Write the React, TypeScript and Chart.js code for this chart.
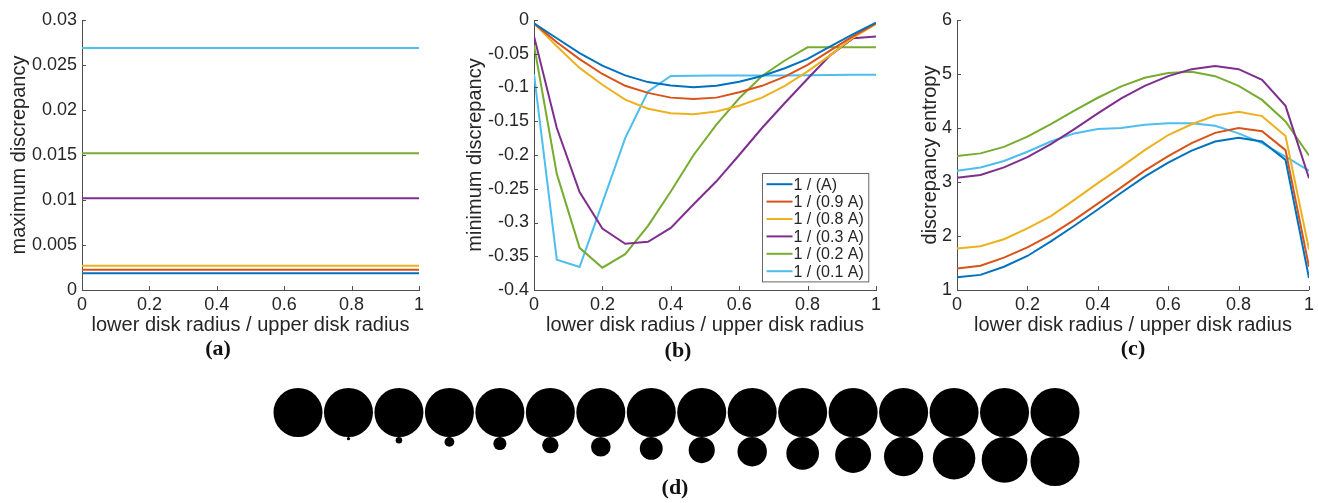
import React, { useEffect, useRef } from "react";
import { Chart, registerables } from "chart.js";

Chart.register(...registerables);

// ---------- data ----------
const xValues = [0, 1 / 15, 2 / 15, 3 / 15, 4 / 15, 5 / 15, 6 / 15, 7 / 15, 8 / 15, 9 / 15, 10 / 15, 11 / 15, 12 / 15, 13 / 15, 14 / 15, 1];

const seriesLabels = ["1 / (A)", "1 / (0.9 A)", "1 / (0.8 A)", "1 / (0.3 A)", "1 / (0.2 A)", "1 / (0.1 A)"];

// (a) maximum discrepancy (constant over the ratio)
const maxDiscrepancy = [0.00185, 0.00226, 0.0027, 0.0102, 0.0152, 0.0269];

// (b) minimum discrepancy
const minA = [-0.005, -0.027, -0.049, -0.0675, -0.082, -0.092, -0.097, -0.0995, -0.0975, -0.0916, -0.083, -0.0714, -0.0576, -0.039, -0.021, -0.004];
const min09A = [-0.005, -0.033, -0.058, -0.08, -0.0975, -0.108, -0.115, -0.117, -0.115, -0.107, -0.0975, -0.084, -0.0665, -0.045, -0.024, -0.005];
const min08A = [-0.005, -0.039, -0.071, -0.096, -0.118, -0.1315, -0.138, -0.1395, -0.1355, -0.127, -0.115, -0.0975, -0.076, -0.052, -0.026, -0.006];
const min03A = [-0.024, -0.16, -0.255, -0.309, -0.3315, -0.3285, -0.308, -0.273, -0.239, -0.2, -0.16, -0.123, -0.087, -0.052, -0.027, -0.0246];
const min02A = [-0.037, -0.228, -0.3375, -0.367, -0.347, -0.305, -0.254, -0.2, -0.155, -0.116, -0.083, -0.06, -0.0404, -0.0404, -0.0404, -0.0404];
const min01A = [-0.08, -0.355, -0.366, -0.271, -0.175, -0.106, -0.083, -0.0825, -0.0824, -0.0823, -0.0822, -0.0821, -0.082, -0.0815, -0.081, -0.081];

// (c) discrepancy entropy
const entA = [1.235, 1.28, 1.43, 1.63, 1.9, 2.19, 2.49, 2.8, 3.1, 3.36, 3.58, 3.75, 3.82, 3.75, 3.41, 1.22];
const ent09A = [1.4, 1.45, 1.6, 1.79, 2.02, 2.3, 2.6, 2.9, 3.21, 3.48, 3.72, 3.91, 4.0, 3.94, 3.59, 1.43];
const ent08A = [1.77, 1.81, 1.94, 2.14, 2.37, 2.67, 2.98, 3.28, 3.59, 3.87, 4.07, 4.23, 4.3, 4.22, 3.85, 1.75];
const ent03A = [3.08, 3.13, 3.27, 3.46, 3.7, 3.98, 4.27, 4.55, 4.78, 4.96, 5.09, 5.15, 5.09, 4.89, 4.41, 3.07];
const ent02A = [3.48, 3.53, 3.65, 3.84, 4.07, 4.32, 4.56, 4.77, 4.93, 5.02, 5.04, 4.96, 4.78, 4.52, 4.12, 3.49];
const ent01A = [3.21, 3.27, 3.39, 3.56, 3.75, 3.9, 3.98, 4.0, 4.06, 4.09, 4.09, 4.04, 3.9, 3.72, 3.47, 3.21];

// ticks
const xTicks = [0, 0.2, 0.4, 0.6, 0.8, 1];
const xTickLabels = ["0", "0.2", "0.4", "0.6", "0.8", "1"];
const yTicksA = [0, 0.005, 0.01, 0.015, 0.02, 0.025, 0.03];
const yTickLabelsA = ["0", "0.005", "0.01", "0.015", "0.02", "0.025", "0.03"];
const yTicksB = [-0.4, -0.35, -0.3, -0.25, -0.2, -0.15, -0.1, -0.05, 0];
const yTickLabelsB = ["-0.4", "-0.35", "-0.3", "-0.25", "-0.2", "-0.15", "-0.1", "-0.05", "0"];
const yTicksC = [1, 2, 3, 4, 5, 6];
const yTickLabelsC = ["1", "2", "3", "4", "5", "6"];

// ---------- styles ----------
const seriesColors = ["#0072BD", "#D95319", "#EDB120", "#7E2F8E", "#77AC30", "#4DBEEE"];
const AXIS_COLOR = "#4d4d4d";
const TEXT_COLOR = "#262626";
const FONT = '"Liberation Sans", Arial, Helvetica, sans-serif';

const inwardTicks = {
  id: "inwardTicks",
  afterDraw(chart: any) {
    const { ctx, chartArea: a, scales } = chart;
    const len = 4;
    ctx.save();
    ctx.strokeStyle = AXIS_COLOR;
    ctx.lineWidth = 1;
    ctx.beginPath();
    scales.x.ticks.forEach((t: any) => {
      const p = Math.round(scales.x.getPixelForValue(t.value)) + 0.5;
      ctx.moveTo(p, a.bottom);
      ctx.lineTo(p, a.bottom - len);
    });
    scales.y.ticks.forEach((t: any) => {
      const p = Math.round(scales.y.getPixelForValue(t.value)) + 0.5;
      ctx.moveTo(a.left, p);
      ctx.lineTo(a.left + len, p);
    });
    ctx.stroke();
    ctx.restore();
  },
};

const boxLegend = {
  id: "boxLegend",
  afterDraw(chart: any) {
    const { ctx, chartArea: a } = chart;
    const ds = chart.data.datasets;
    ctx.save();
    ctx.font = `16px ${FONT}`;
    const rowH = 17.4;
    const lineLen = 26;
    const padL = 4;
    const gap = 1;
    const padR = 5;
    const textW = Math.max(...ds.map((d: any) => ctx.measureText(d.label).width));
    const w = padL + lineLen + gap + textW + padR;
    const h = rowH * ds.length + 4;
    const x0 = Math.round(a.right - 8 - w) + 0.5;
    const y0 = Math.round(a.bottom - 9 - h) + 0.5;
    ctx.fillStyle = "#ffffff";
    ctx.fillRect(x0, y0, w, h);
    ctx.strokeStyle = "#666666";
    ctx.lineWidth = 1;
    ctx.strokeRect(x0, y0, w, h);
    ds.forEach((d: any, i: number) => {
      const cy = y0 + 2 + rowH * (i + 0.5);
      ctx.strokeStyle = d.borderColor;
      ctx.lineWidth = 2;
      ctx.beginPath();
      ctx.moveTo(x0 + padL, cy);
      ctx.lineTo(x0 + padL + lineLen, cy);
      ctx.stroke();
      ctx.fillStyle = TEXT_COLOR;
      ctx.textBaseline = "middle";
      ctx.textAlign = "left";
      ctx.fillText(d.label, x0 + padL + lineLen + gap, cy + 1);
    });
    ctx.restore();
  },
};

type Frame = { yAxisW: number; rightPad: number; titlePad: number };

function lineConfig(
  datasetsData: { x: number; y: number }[][],
  yMin: number,
  yMax: number,
  yTicks: number[],
  yTickLabels: string[],
  yTitle: string,
  frame: Frame,
  withLegend: boolean
) {
  return {
    type: "line",
    data: {
      datasets: datasetsData.map((pts, i) => ({
        label: seriesLabels[i],
        data: pts,
        borderColor: seriesColors[i],
        backgroundColor: seriesColors[i],
        borderWidth: 2,
        pointRadius: 0,
        tension: 0,
        fill: false,
      })),
    },
    options: {
      animation: false,
      responsive: false,
      devicePixelRatio: 1,
      layout: { padding: { top: 20, right: frame.rightPad, left: 0, bottom: 0 } },
      plugins: { legend: { display: false }, tooltip: { enabled: false } },
      scales: {
        x: {
          type: "linear",
          min: 0,
          max: 1,
          afterBuildTicks: (s: any) => {
            s.ticks = xTicks.map((v) => ({ value: v }));
          },
          afterFit: (s: any) => {
            s.height = 50;
          },
          grid: { display: false, drawTicks: false },
          border: { display: true, color: AXIS_COLOR, width: 1 },
          ticks: {
            padding: 4,
            color: TEXT_COLOR,
            autoSkip: false,
            maxRotation: 0,
            font: { family: FONT, size: 18 },
            callback: (_v: any, i: number) => xTickLabels[i],
          },
          title: {
            display: true,
            text: "lower disk radius / upper disk radius",
            color: TEXT_COLOR,
            font: { family: FONT, size: 20 },
            padding: { top: 0, bottom: 3 },
          },
        },
        y: {
          type: "linear",
          min: yMin,
          max: yMax,
          afterBuildTicks: (s: any) => {
            s.ticks = yTicks.map((v) => ({ value: v }));
          },
          afterFit: (s: any) => {
            s.width = frame.yAxisW;
          },
          grid: { display: false, drawTicks: false },
          border: { display: true, color: AXIS_COLOR, width: 1 },
          ticks: {
            padding: 5,
            color: TEXT_COLOR,
            autoSkip: false,
            font: { family: FONT, size: 18 },
            callback: (_v: any, i: number) => yTickLabels[i],
          },
          title: {
            display: true,
            text: yTitle,
            color: TEXT_COLOR,
            font: { family: FONT, size: 20 },
            padding: { top: frame.titlePad, bottom: 0 },
          },
        },
      },
    },
    plugins: withLegend ? [inwardTicks, boxLegend] : [inwardTicks],
  };
}

function toPoints(vals: number[]) {
  return vals.map((v, i) => ({ x: xValues[i], y: v }));
}

function ChartCanvas({ config, left, top, width, height }: any) {
  const ref = useRef<HTMLCanvasElement>(null);
  useEffect(() => {
    const chart = new Chart(ref.current as HTMLCanvasElement, config());
    return () => chart.destroy();
  }, []);
  return (
    <canvas
      ref={ref}
      width={width}
      height={height}
      style={{ position: "absolute", left, top, width, height, display: "block" }}
    />
  );
}

const configA = () =>
  lineConfig(
    maxDiscrepancy.map((v) => [
      { x: xValues[0], y: v },
      { x: xValues[xValues.length - 1], y: v },
    ]),
    0,
    0.03,
    yTicksA,
    yTickLabelsA,
    "maximum discrepancy",
    { yAxisW: 82, rightPad: 21, titlePad: 7 },
    false
  );

const configB = () =>
  lineConfig(
    [minA, min09A, min08A, min03A, min02A, min01A].map(toPoints),
    -0.4,
    0,
    yTicksB,
    yTickLabelsB,
    "minimum discrepancy",
    { yAxisW: 94, rightPad: 10, titlePad: 23.5 },
    true
  );

const configC = () =>
  lineConfig(
    [entA, ent09A, ent08A, ent03A, ent02A, ent01A].map(toPoints),
    1,
    6,
    yTicksC,
    yTickLabelsC,
    "discrepancy entropy",
    { yAxisW: 72, rightPad: 9, titlePad: 33 },
    false
  );

// (d) disks: upper disk radius = 1 unit, lower disk radius = ratio, tangent below
const configD = () => {
  const radius = (ctx: any) => {
    const s = ctx.chart.scales.y;
    const unit = Math.abs(s.getPixelForValue(0) - s.getPixelForValue(1));
    return ctx.raw ? ctx.raw.r * unit : 0;
  };
  return {
    type: "scatter",
    data: {
      datasets: [
        {
          data: xValues.map((x) => ({ x, y: 0, r: 1 })),
          backgroundColor: "#000",
          borderWidth: 0,
          pointBorderWidth: 0,
          pointRadius: radius,
          clip: false,
        },
        {
          data: xValues.map((x) => ({ x, y: -(1 + x), r: x })),
          backgroundColor: "#000",
          borderWidth: 0,
          pointBorderWidth: 0,
          pointRadius: radius,
          clip: false,
        },
      ],
    },
    options: {
      animation: false,
      responsive: false,
      devicePixelRatio: 1,
      layout: { padding: { left: 30, right: 30, top: 32.5, bottom: 33.5 } },
      plugins: { legend: { display: false }, tooltip: { enabled: false } },
      scales: {
        x: { type: "linear", min: 0, max: 1, display: false },
        y: { type: "linear", min: -2, max: 0, display: false },
      },
    },
  };
};

const captionStyle: React.CSSProperties = {
  position: "absolute",
  transform: "translate(-50%, -50%)",
  fontFamily: '"Liberation Serif", "Times New Roman", serif',
  fontWeight: "bold",
  fontSize: 22,
  color: "#111",
  whiteSpace: "nowrap",
  lineHeight: 1,
};

export default function App() {
  return (
    <div style={{ position: "absolute", left: 0, top: 0, width: 1318, height: 503, background: "#fff", overflow: "hidden" }}>
      <ChartCanvas config={configA} left={0} top={0} width={440} height={340} />
      <ChartCanvas config={configB} left={440} top={0} width={446} height={340} />
      <ChartCanvas config={configC} left={885} top={0} width={433} height={340} />
      <ChartCanvas config={configD} left={268} top={380} width={817} height={115} />
      <div style={{ ...captionStyle, left: 218, top: 348 }}>(a)</div>
      <div style={{ ...captionStyle, left: 678, top: 350 }}>(b)</div>
      <div style={{ ...captionStyle, left: 1133, top: 348 }}>(c)</div>
      <div style={{ ...captionStyle, left: 675, top: 487 }}>(d)</div>
    </div>
  );
}
